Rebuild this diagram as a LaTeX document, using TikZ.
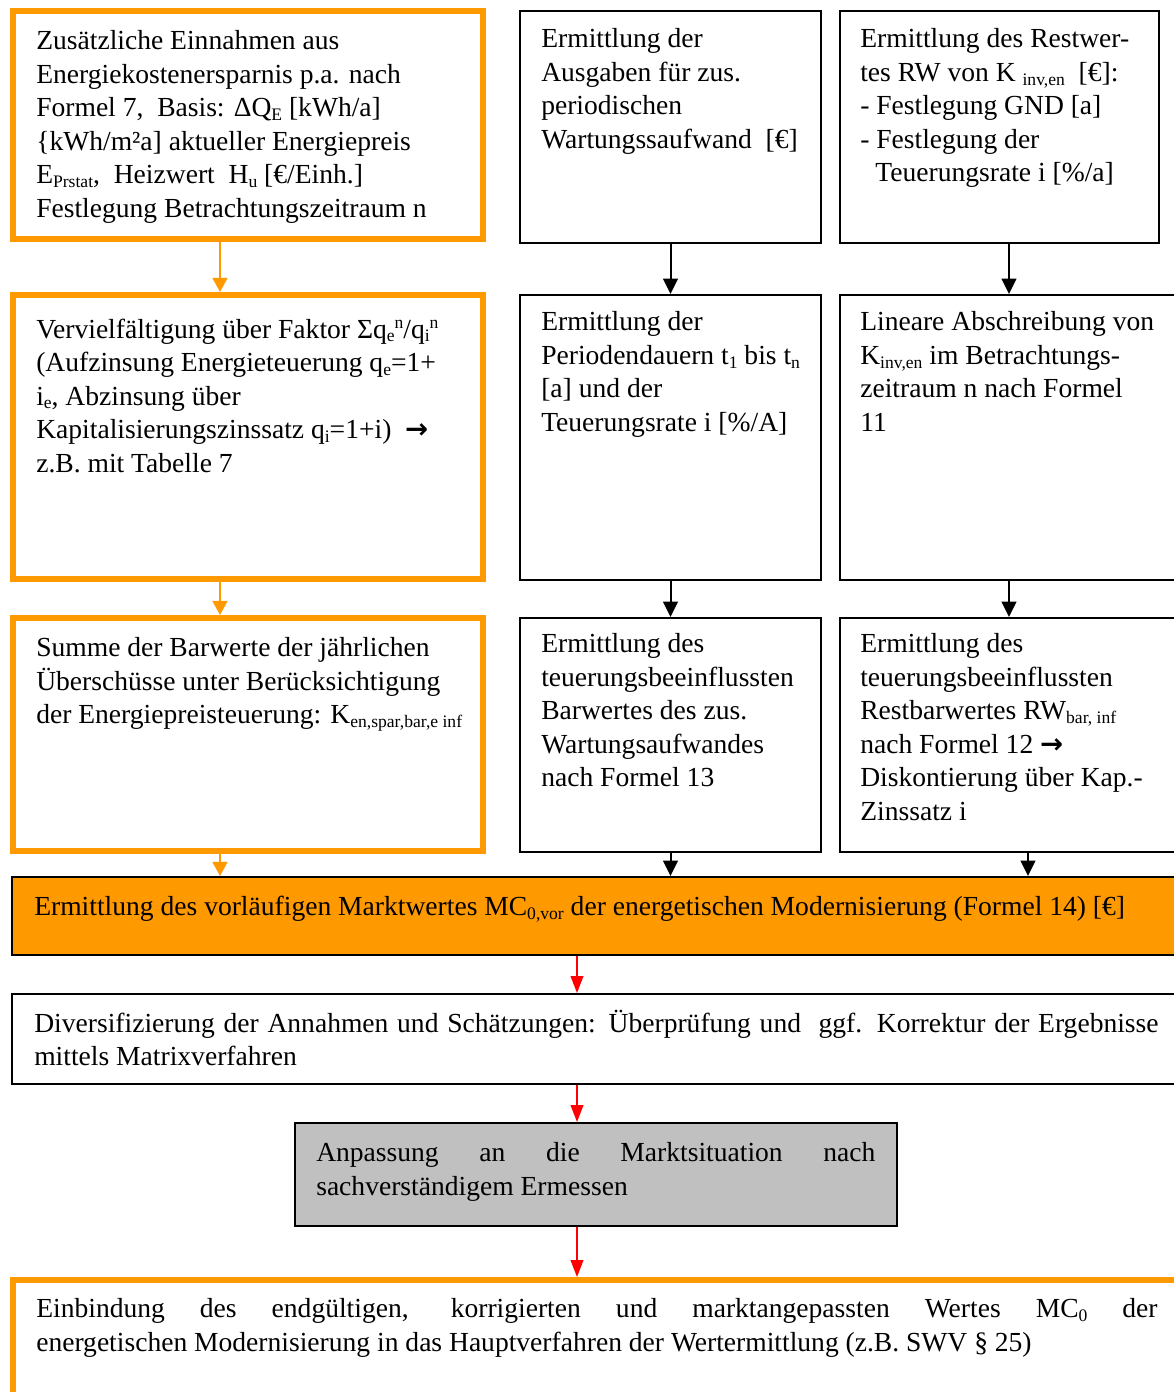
\documentclass[tikz,border=0pt]{standalone}
\usepackage{fontspec}
\setmainfont{Liberation Serif}
\newfontfamily\arrowfont{DejaVu Sans}
\usetikzlibrary{arrows.meta}
\definecolor{orangebox}{RGB}{255,153,0}
\definecolor{graybox}{RGB}{192,192,192}
\newcommand{\boxfont}{\fontsize{19.6}{23.8}\selectfont}
\newcommand{\tsub}[1]{\raisebox{-0.3ex}{\fontsize{12.5}{12.5}\selectfont #1}}
\newcommand{\tsup}[1]{\raisebox{0.75ex}{\fontsize{12.5}{12.5}\selectfont #1}}
\newcommand{\rarr}{{\arrowfont\bfseries →}}
\begin{document}
\begin{tikzpicture}[x=0.025cm,y=-0.025cm,
    obox/.style={draw=orangebox,line width=4.2pt,anchor=north west,inner sep=0pt},
    bbox/.style={draw=black,line width=1.4pt,anchor=north west,inner sep=0pt},
    txt/.style={anchor=north west,inner sep=0pt,align=left,font=\boxfont,execute at begin node=\strut},
    oarrow/.style={draw=orangebox,line width=1.6pt,-{Triangle[length=10pt,width=10.5pt]}},
    barrow/.style={draw=black,line width=1.4pt,-{Triangle[length=11pt,width=10.5pt]}},
    rarrow/.style={draw=red,line width=1.1pt,-{Triangle[length=12pt,width=9pt]}}]
  \useasboundingbox (0,0) rectangle (1173,1392);
  \node [obox,minimum width=11.75cm,minimum height=5.7cm] (a1) at (10,8) {};
  \node [obox,minimum width=11.75cm,minimum height=7.1cm] (a2) at (10,292) {};
  \node [obox,minimum width=11.75cm,minimum height=5.825cm] (a3) at (10,615) {};
  \node [bbox,minimum width=7.525cm,minimum height=5.8cm] (b1) at (519,10) {};
  \node [bbox,minimum width=7.525cm,minimum height=7.125cm] (b2) at (519,294) {};
  \node [bbox,minimum width=7.525cm,minimum height=5.85cm] (b3) at (519,617) {};
  \node [bbox,minimum width=7.975cm,minimum height=5.8cm] (c1) at (839,10) {};
  \node [bbox,minimum width=8.75cm,minimum height=7.125cm] (c2) at (839,294) {};
  \node [bbox,minimum width=8.75cm,minimum height=5.85cm] (c3) at (839,617) {};
  \node [bbox,fill=orangebox,minimum width=29.45cm,minimum height=1.95cm] (d) at (11,876) {};
  \node [bbox,minimum width=29.45cm,minimum height=2.25cm] (e) at (11,993) {};
  \node [bbox,fill=graybox,minimum width=15.05cm,minimum height=2.575cm] (f) at (294,1122) {};
  \node [obox,minimum width=29.5cm,minimum height=3.5cm] (g) at (10,1277) {};

  \node [txt] (a1t) at (36,30.5) {Zusätzliche Einnahmen aus\\
    Energiekostenersparnis p.a. nach\\
    Formel 7,\ \ Basis: ΔQ\tsub{E} [kWh/a]\\
    \{kWh/m²a] aktueller Energiepreis\\
    E\tsub{Prstat},\ \ Heizwert\ \ H\tsub{u} [€/Einh.]\\
    Festlegung Betrachtungszeitraum n};
  \node [txt] (b1t) at (541,28.5) {Ermittlung der\\
    Ausgaben für zus.\\
    periodischen\\
    Wartungssaufwand\ \ [€]};
  \node [txt] (c1t) at (860,28.5) {Ermittlung des Restwer-\\
    tes RW von K \tsub{inv,en}\ \ [€]:\\
    - Festlegung GND [a]\\
    - Festlegung der\\
    \hspace*{0.55em}Teuerungsrate i [\%/a]};
  \node [txt] (a2t) at (36,318.5) {Vervielfältigung über Faktor Σq\tsub{e}\tsup{n}/q\tsub{i}\tsup{n}\\
    (Aufzinsung Energieteuerung q\tsub{e}=1+\\
    i\tsub{e}, Abzinsung über\\
    Kapitalisierungszinssatz q\tsub{i}=1+i)\ \ \rarr\\
    z.B. mit Tabelle 7};
  \node [txt] (b2t) at (541,311.5) {Ermittlung der\\
    Periodendauern t\tsub{1} bis t\tsub{n}\\
    {[a]} und der\\
    Teuerungsrate i [\%/A]};
  \node [txt] (c2t) at (860,311.5) {Lineare Abschreibung von\\
    K\tsub{inv,en} im Betrachtungs-\\
    zeitraum n nach Formel\\
    11};
  \node [txt] (a3t) at (36,637.5) {Summe der Barwerte der jährlichen\\
    Überschüsse unter Berücksichtigung\\
    der Energiepreisteuerung: K\tsub{en,spar,bar,e inf}};
  \node [txt] (b3t) at (541,633.5) {Ermittlung des\\
    teuerungsbeeinflussten\\
    Barwertes des zus.\\
    Wartungsaufwandes\\
    nach Formel 13};
  \node [txt] (c3t) at (860,633.5) {Ermittlung des\\
    teuerungsbeeinflussten\\
    Restbarwertes RW\tsub{bar, inf}\\
    nach Formel 12 \rarr\\
    Diskontierung über Kap.-\\
    Zinssatz i};
  \node [txt] (dt) at (34,891.5) {Ermittlung des vorläufigen Marktwertes MC\tsub{0,vor} der energetischen Modernisierung (Formel 14) [€]};
  \node [txt] (et) at (34,1009.5) {\makebox[28.1cm][s]{Diversifizierung der Annahmen und Schätzungen: Überprüfung und\ \ ggf. Korrektur der Ergebnisse}\\
    mittels Matrixverfahren};
  \node [txt] (ft) at (316,1142.5) {\makebox[13.975cm][s]{Anpassung an die Marktsituation nach}\\
    sachverständigem Ermessen};
  \node [txt] (gt) at (36,1298.5) {\makebox[28.025cm][s]{Einbindung des endgültigen, korrigierten und marktangepassten Wertes MC\tsub{0} der}\\
    energetischen Modernisierung in das Hauptverfahren der Wertermittlung (z.B. SWV § 25)};

  \coordinate (ax) at (220,0);
  \coordinate (cx) at (1009,0);
  \coordinate (cx3) at (1028,0);
  \coordinate (rx) at (577,0);
  \draw [oarrow] (a1.south -| ax) -- (a2.north -| ax);
  \draw [oarrow] (a2.south -| ax) -- (a3.north -| ax);
  \draw [oarrow] (a3.south -| ax) -- (d.north -| ax);
  \draw [barrow] (b1.south) -- (b2.north);
  \draw [barrow] (b2.south) -- (b3.north);
  \draw [barrow] (b3.south) -- (d.north -| b3.south);
  \draw [barrow] (c1.south -| cx) -- (c2.north -| cx);
  \draw [barrow] (c2.south -| cx) -- (c3.north -| cx);
  \draw [barrow] (c3.south -| cx3) -- (d.north -| cx3);
  \draw [rarrow] (d.south -| rx) -- (e.north -| rx);
  \draw [rarrow] (e.south -| rx) -- (f.north -| rx);
  \draw [rarrow] (f.south -| rx) -- (g.north -| rx);
\end{tikzpicture}
\end{document}
